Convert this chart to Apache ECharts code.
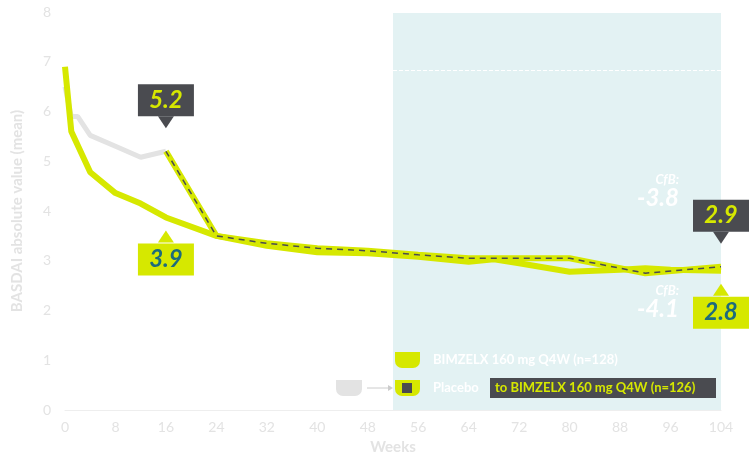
<!DOCTYPE html>
<html><head><meta charset="utf-8">
<script src="https://cdn.jsdelivr.net/npm/echarts@6/dist/echarts.min.js"></script>
<style>html,body{margin:0;padding:0;background:#fff}#c{width:750px;height:462px}</style>
</head><body><div id="c"></div>
<script>
const bimWeeks = [0,1,4,8,12,16,24,32,40,48,56,64,68,72,80,88,92,96,104];
const bimVals  = [6.9,5.6,4.78,4.36,4.15,3.87,3.5,3.3,3.17,3.15,3.08,2.98,3.03,2.95,2.78,2.82,2.85,2.82,2.8];
const pboWeeks = [0,1,2,4,8,12,16];
const pboVals  = [6.5,5.9,5.9,5.52,5.3,5.08,5.2];
const switchWeeks = [16,24,32,40,48,56,64,72,80,92,104];
const switchVals  = [5.2,3.5,3.35,3.25,3.2,3.12,3.05,3.05,3.05,2.75,2.88];
const xTicks = [0,8,16,24,32,40,48,56,64,72,80,88,96,104];
const Y = '#d6e800', DARK = '#4a4b50', TEAL = '#1d6b7c', GREY='#e3e3e3';
const pair = (w,v)=>w.map((x,i)=>[x,v[i]]);
const chart = echarts.init(document.getElementById('c'));
const callout = (coord, text, bg, fg, up) => ({
  coord, symbol:'triangle', symbolSize:[16,12], symbolRotate: up?0:180,
  symbolOffset:[0, up?19:-29], itemStyle:{color:bg},
  label:{show:true, formatter:text, offset:[0, up?23:-22], backgroundColor:bg, color:fg,
    fontSize:24, fontWeight:'bold', fontStyle:'italic', fontFamily:'Lato', padding:[4,8], width:40, align:'center'}
});
const cfb = (coord, v, dy) => ({coord, symbol:'circle', symbolSize:1, itemStyle:{color:'rgba(0,0,0,0)'},
  label:{show:true, position:'inside', formatter:'{a|CfB:}\n{b|'+v+'}', offset:[-62,dy],
    rich:{a:{color:'#fff',fontSize:13,fontWeight:'bold',fontStyle:'italic',align:'right',fontFamily:'Lato',width:40},
          b:{color:'#fff',fontSize:24,fontWeight:'bold',fontStyle:'italic',align:'right',fontFamily:'Lato',width:40}}}});
chart.setOption({
  animation:false,
  grid:{left:65,right:29,top:12,bottom:52},
  xAxis:{type:'value',min:0,max:104,interval:8,
    axisLine:{show:true,lineStyle:{color:'#eeeeee'}},axisTick:{show:false},splitLine:{show:false},
    axisLabel:{color:GREY,fontSize:14,fontFamily:'Lato',margin:10},
    name:'Weeks',nameLocation:'middle',nameGap:30,nameTextStyle:{color:GREY,fontSize:15,fontWeight:'bold',fontFamily:'Lato'}},
  yAxis:{type:'value',min:0,max:8,interval:1,
    axisLine:{show:false},axisTick:{show:false},splitLine:{show:false},
    axisLabel:{color:GREY,fontSize:14,fontFamily:'Lato',margin:14},
    name:'BASDAI absolute value (mean)',nameLocation:'middle',nameGap:40,nameRotate:90,
    nameTextStyle:{color:GREY,fontSize:15,fontWeight:'bold',fontFamily:'Lato'}},
  series:[
    {type:'line',data:[],silent:true,
     markArea:{silent:true,itemStyle:{color:'#e3f2f3'},data:[[{coord:[52,0]},{coord:[104,7.98]}]]},
     markLine:{silent:true,symbol:'none',label:{show:false},lineStyle:{color:'#ffffff',type:'dashed',width:1},
       data:[[{coord:[52,6.83]},{coord:[104,6.83]}]]}},
    {type:'line',data:pair(pboWeeks,pboVals),symbol:'none',lineStyle:{color:GREY,width:5},z:3},
    {type:'line',data:pair(bimWeeks,bimVals),symbol:'none',lineStyle:{color:Y,width:6},z:4,
     markPoint:{silent:true,data:[
       callout([16,3.87],'3.9',Y,TEAL,true),
       callout([104,2.8],'2.8',Y,TEAL,true),
       cfb([104,2.8],'-4.1',32)
     ]}},
    {type:'line',data:pair(switchWeeks,switchVals),symbol:'none',lineStyle:{color:Y,width:6},z:5},
    {type:'line',data:pair(switchWeeks,switchVals),symbol:'none',lineStyle:{color:DARK,width:1.5,type:[6,5]},z:6,
     markPoint:{silent:true,data:[
       callout([16,5.2],'5.2',DARK,Y,false),
       callout([104,2.88],'2.9',DARK,Y,false),
       cfb([104,2.88],'-3.8',-75)
     ]}}
  ],
  graphic:{elements:[
    {type:'rect',z:100,shape:{x:395,y:352,width:25,height:16,r:[0,0,7,7]},style:{fill:Y}},
    {type:'text',z:100,x:433,y:353,style:{text:'BIMZELX 160 mg Q4W (n=128)',fill:'#fff',font:'bold 13px Lato'}},
    {type:'rect',z:100,shape:{x:336,y:380,width:26,height:16,r:[0,0,7,7]},style:{fill:GREY}},
    {type:'line',z:100,shape:{x1:367,y1:388,x2:388,y2:388},style:{stroke:'#ccc',lineWidth:1}},
    {type:'polygon',z:100,shape:{points:[[388,385],[393,388],[388,391]]},style:{fill:'#ccc'}},
    {type:'rect',z:100,shape:{x:395,y:380,width:25,height:16,r:[0,0,7,7]},style:{fill:Y}},
    {type:'rect',z:101,shape:{x:402,y:383,width:10,height:10},style:{fill:DARK}},
    {type:'text',z:100,x:433,y:381,style:{text:'Placebo',fill:'#fff',font:'bold 13px Lato'}},
    {type:'rect',z:100,shape:{x:490,y:378,width:226,height:20},style:{fill:DARK}},
    {type:'text',z:101,x:495,y:381,style:{text:'to BIMZELX 160 mg Q4W (n=126)',fill:Y,font:'bold 13px Lato'}}
  ]}
});
</script></body></html>
